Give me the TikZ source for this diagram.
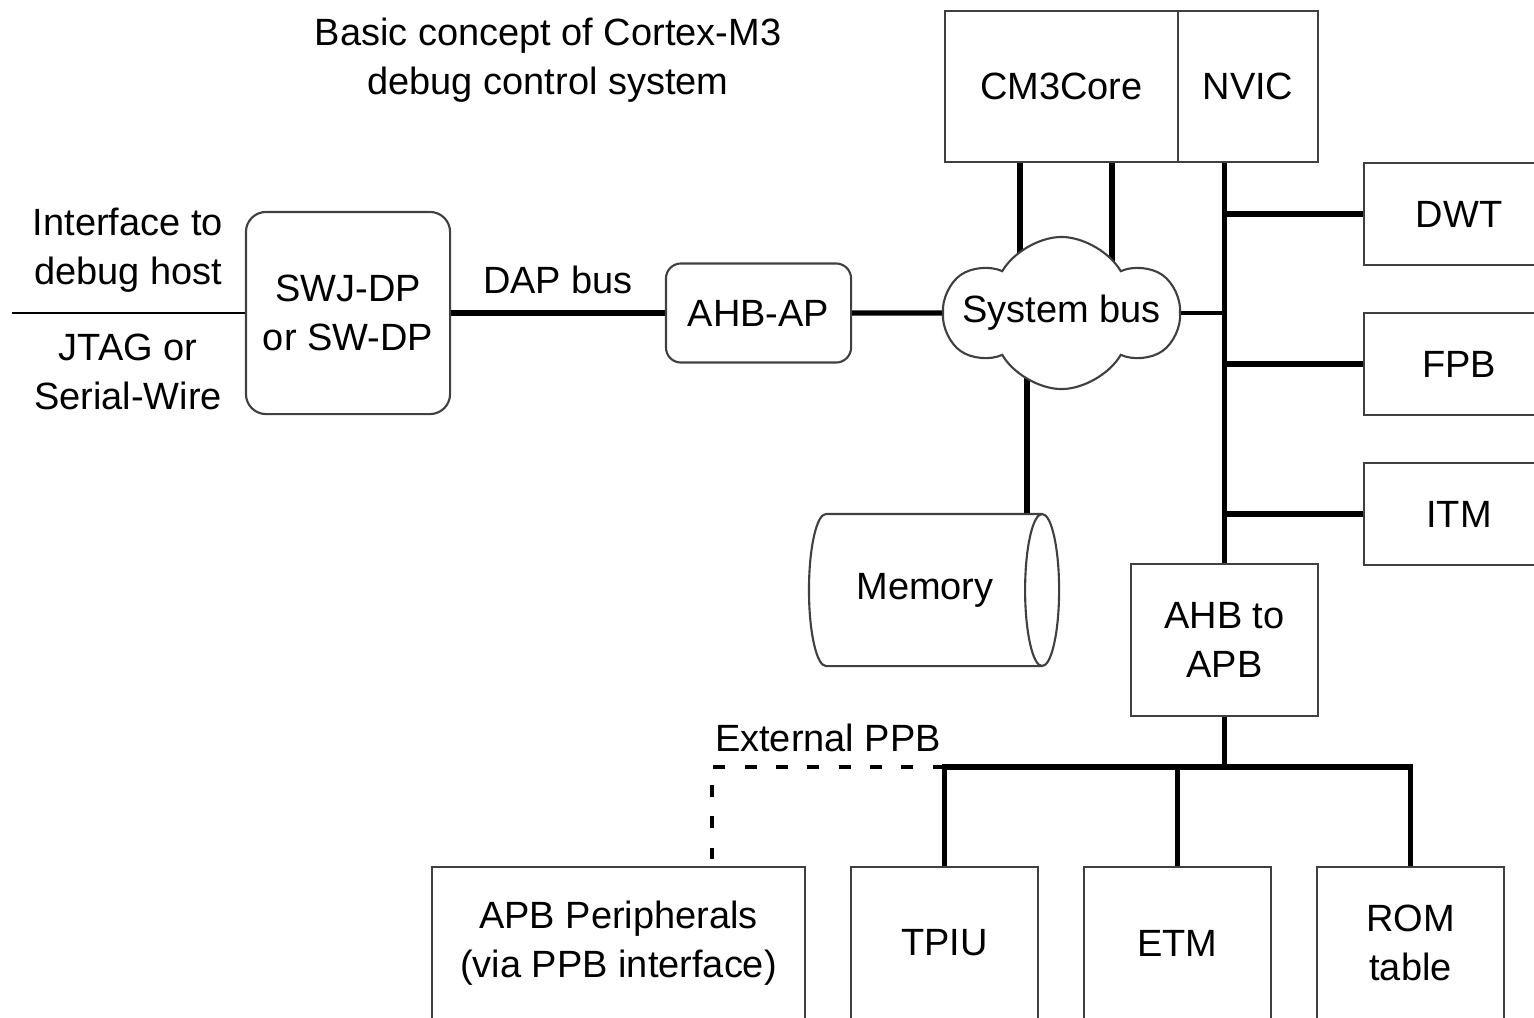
\documentclass[tikz,border=0pt]{standalone}
\usepackage{fontspec}
\setmainfont{Liberation Sans}
\usetikzlibrary{shapes.geometric,shapes.symbols,backgrounds}

\begin{document}
\begin{tikzpicture}[x=0.01cm, y=-0.01cm, font=\fontsize{10.8}{14}\selectfont,
	box/.style={draw=black!75, line width=0.6pt, fill=white, inner sep=0pt, align=center},
	rbox/.style={box, rounded corners=0.2cm},
	bus/.style={line width=1.5pt},
	wire/.style={line width=0.6pt},
	extbus/.style={line width=0.9pt, dash pattern=on 3.4pt off 5.5pt}]
	\useasboundingbox (0,0) rectangle (1534,1017);
	\clip (0,0) rectangle (1534,1017);
	\node[align=center] (title) at (548,60) {Basic concept of Cortex-M3\\debug control system};
	\node[box, minimum width=2.33cm, minimum height=1.51cm] (core) at (1061.5,86.5) {CM3Core};
	\node[box, minimum width=1.40cm, minimum height=1.51cm] (nvic) at (1248,86.5) {NVIC};
	\node[draw=black!75, line width=0.6pt, fill=white, cloud, cloud puffs=6, cloud puff arc=120, aspect=1.5, inner sep=0pt, minimum width=2.33cm, minimum height=1.52cm, label=center:System bus] (cloud) at (1061.5,313) {};
	\node[box, minimum width=1.9cm, minimum height=1.02cm] (dwt) at (1459,214) {DWT};
	\node[box, minimum width=1.9cm, minimum height=1.02cm] (fpb) at (1459,364) {FPB};
	\node[box, minimum width=1.9cm, minimum height=1.02cm] (itm) at (1459,514) {ITM};
	\node[box, minimum width=1.87cm, minimum height=1.52cm] (ahbapb) at (1224.5,640) {AHB to\\APB};
	\node[box, cylinder, aspect=1.0, minimum width=1.52cm, minimum height=2.5cm] (memory) at (925,590) {Memory};
	\node[rbox, minimum width=2.04cm, minimum height=2.02cm] (swj) at (348,313) {SWJ-DP\\or SW-DP};
	\node[rbox, rounded corners=0.15cm, minimum width=1.85cm, minimum height=0.99cm] (ahbap) at (758.5,313) {AHB-AP};
	\node[box, minimum width=3.73cm, minimum height=1.52cm] (apb) at (618.5,943) {APB Peripherals\\(via PPB interface)};
	\node[box, minimum width=1.87cm, minimum height=1.52cm] (tpiu) at (944.5,943) {TPIU};
	\node[box, minimum width=1.87cm, minimum height=1.52cm] (etm) at (1177.5,943) {ETM};
	\node[box, minimum width=1.87cm, minimum height=1.52cm] (rom) at (1410.5,943) {ROM\\table};
	\node[align=center] (ifhost) at (128,250) {Interface to\\debug host};
	\node[align=center] (jtag) at (128,372) {JTAG or\\Serial-Wire};
	\node (extppb) at (828,738) {External PPB};
	\coordinate (host) at (12,313);
	\coordinate (lbus) at (1224.5,767);
	\coordinate (ext) at (712,860);
	\begin{pgfonlayer}{background}
		\draw[wire] (host) -- (swj);
		\draw[bus] (swj) -- node[above=0.05cm]{DAP bus} (ahbap);
		\draw[bus] (ahbap) -- (cloud);
		\draw[bus] ([xshift=-0.415cm]core.south) -- ([xshift=-0.415cm]core.south |- cloud.center);
		\draw[bus] ([xshift=0.505cm]core.south) -- ([xshift=0.505cm]core.south |- cloud.center);
		\draw[bus] ([xshift=-0.345cm]cloud.center) -- ([xshift=-0.345cm]cloud.center |- memory.center);
		\draw[line width=1.1pt] (cloud.center) -- (cloud.center -| ahbapb.north);
		\draw[bus] (ahbapb.north |- nvic.south) -- (ahbapb.north);
		\draw[bus] (dwt) -- (dwt -| ahbapb.north);
		\draw[bus] (fpb) -- (fpb -| ahbapb.north);
		\draw[bus] (itm) -- (itm -| ahbapb.north);
		\draw[bus] (ahbapb) -- (lbus);
		\draw[bus] (tpiu) |- (lbus -| rom) -- (rom);
		\draw[bus] (etm) -- (etm |- lbus);
		\draw[extbus] (tpiu |- lbus) -| (ext);
	\end{pgfonlayer}
\end{tikzpicture}
\end{document}
